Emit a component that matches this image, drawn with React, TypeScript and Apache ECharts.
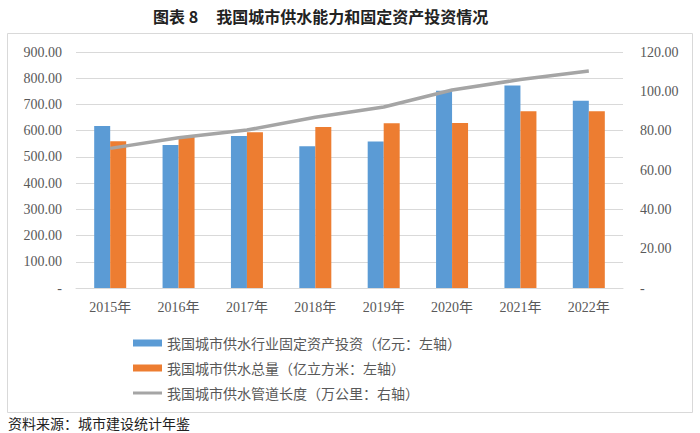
import React, { useEffect, useRef } from "react";
import * as echarts from "echarts";

const categories = ["2015年", "2016年", "2017年", "2018年", "2019年", "2020年", "2021年", "2022年"];
const investment = [618, 545, 580, 541, 559, 752, 772, 714];
const supplyVolume = [560, 578, 594, 614, 628, 629, 674, 674];
const pipeLength = [71.0, 76.4, 80.3, 86.8, 92.0, 100.7, 106.0, 110.3];
const seriesNames = [
  "我国城市供水行业固定资产投资（亿元：左轴）",
  "我国城市供水总量（亿立方米：左轴）",
  "我国城市供水管道长度（万公里：右轴）",
];
const titleText = "图表 8     我国城市供水能力和固定资产投资情况";
const sourceText = "资料来源：城市建设统计年鉴";

const numFont = "'Liberation Serif', 'Noto Sans CJK SC', serif";
const cjkFont = "'Noto Sans CJK SC', sans-serif";
const textColor = "#595959";
const gridColor = "#d9d9d9";

const fmt = (v: number) => (v === 0 ? "-" : v.toFixed(2));

const lineIcon = "path://M0,0 L0,0 M0,7 L0,7 M0,2 L29,2 L29,5 L0,5 Z";

export default function App() {
  const ref = useRef<HTMLDivElement>(null);
  useEffect(() => {
    if (!ref.current) return;
    const chart = echarts.init(ref.current, null, { renderer: "svg" });
    chart.setOption({
      animation: false,
      backgroundColor: "#fff",
      grid: { left: 76, right: 77, top: 52, bottom: 145, containLabel: false },
      legend: {
        orient: "vertical",
        left: 128,
        top: 331,
        itemWidth: 29,
        itemHeight: 7,
        itemGap: 11,
        data: [
          { name: seriesNames[0], icon: "rect" },
          { name: seriesNames[1], icon: "rect" },
          { name: seriesNames[2], icon: lineIcon, itemStyle: { color: "#A5A5A5" } },
        ],
        textStyle: { fontFamily: cjkFont, fontSize: 14, color: textColor },
      },
      xAxis: {
        type: "category",
        data: categories,
        axisLine: { show: true, lineStyle: { color: gridColor, width: 1 } },
        axisTick: { show: false },
        axisLabel: { margin: 12, fontFamily: numFont, fontSize: 14, color: textColor },
      },
      yAxis: [
        {
          type: "value",
          min: 0,
          max: 900,
          interval: 100,
          axisLine: { show: false },
          axisTick: { show: false },
          splitLine: { lineStyle: { color: gridColor, width: 1 } },
          axisLabel: { formatter: fmt, margin: 14, fontFamily: numFont, fontSize: 14, color: textColor },
        },
        {
          type: "value",
          min: 0,
          max: 120,
          interval: 20,
          position: "right",
          axisLine: { show: false },
          axisTick: { show: false },
          splitLine: { show: false },
          axisLabel: { formatter: fmt, margin: 17, fontFamily: numFont, fontSize: 14, color: textColor },
        },
      ],
      series: [
        {
          name: seriesNames[0],
          type: "bar",
          data: investment,
          barWidth: 16,
          barGap: "0%",
          itemStyle: { color: "#5B9BD5" },
        },
        {
          name: seriesNames[1],
          type: "bar",
          data: supplyVolume,
          barWidth: 16,
          barGap: "0%",
          itemStyle: { color: "#ED7D31" },
        },
        {
          name: seriesNames[2],
          type: "line",
          yAxisIndex: 1,
          data: pipeLength,
          symbol: "none",
          lineStyle: { color: "#A5A5A5", width: 3.5 },
          itemStyle: { color: "#A5A5A5" },
        },
      ],
      graphic: [
        {
          type: "rect",
          shape: { x: 7.5, y: 33.5, width: 685, height: 379 },
          style: { fill: "none", stroke: gridColor, lineWidth: 1 },
          z: -1,
        },
        {
          type: "text",
          x: 153,
          y: 16,
          style: {
            text: titleText,
            font: `bold 16px ${cjkFont}`,
            fill: "#222",
            verticalAlign: "middle",
          },
        },
        {
          type: "text",
          x: 8,
          y: 423,
          style: {
            text: sourceText,
            font: `14px ${cjkFont}`,
            fill: "#222",
            verticalAlign: "middle",
          },
        },
      ],
    });
    return () => chart.dispose();
  }, []);
  return (
    <div
      ref={ref}
      style={{ position: "fixed", left: 0, top: 0, width: 700, height: 433 }}
    />
  );
}
